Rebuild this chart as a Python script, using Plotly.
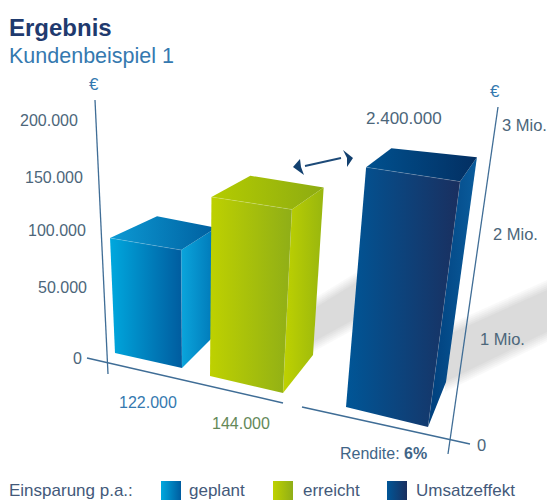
import plotly.graph_objects as go

# ---- data ----
categories = ["geplant", "erreicht", "Umsatzeffekt"]
values = [122000, 144000, 2400000]
value_labels = ["122.000", "144.000", "2.400.000"]
left_ticks = ["0", "50.000", "100.000", "150.000", "200.000"]
right_ticks = ["0", "1 Mio.", "2 Mio.", "3 Mio."]

# ---- perspective geometry (chart drawn in a 547x502 pixel-space axis) ----
VP = (195.0, 2207.0)                 # vanishing point of the verticals
CORNER_K = [1.0, 1.035, 0.925, 0.87]  # FL, FR, BR, BL scale of height
FOOT = [
    [(115, 353), (182, 368), (215, 335), (159, 318)],
    [(210, 376), (283, 393), (313, 355), (246, 335)],
    [(346, 407), (428, 427), (446, 382), (371, 362)],
]
HEIGHT_SCALE = [5.08e-7, 6.79e-7, 5.55e-8]

FRONT = [["#00a8de", "#005c9f"], ["#bed100", "#8fae17"], ["#005697", "#1a2f5f"]]
SIDE = [["#0aa5dc", "#0076b6"], ["#bfd200", "#98b60f"], ["#003f7c", "#0a5c9c"]]
TOP = [["#0c9ad4", "#005f9f"], ["#b4cc00", "#8dab12"], ["#00518f", "#032f62"]]
LABEL_COL = "#4c667a"
BLUE_TXT = "#3579af"
AXIS_COL = "#3f6d96"
FONT = "Liberation Sans"


def lift(pt, k):
    return (VP[0] + (pt[0] - VP[0]) * (1 + k), VP[1] + (pt[1] - VP[1]) * (1 + k))


def poly(fig, pts, cols=None, fill=None, kind="horizontal"):
    xs = [p[0] for p in pts] + [pts[0][0]]
    ys = [p[1] for p in pts] + [pts[0][1]]
    tr = dict(x=xs, y=ys, mode="lines", line=dict(width=0), fill="toself",
              hoverinfo="skip", showlegend=False)
    if cols:
        tr["fillgradient"] = dict(type=kind, colorscale=[[0, cols[0]], [1, cols[1]]])
    else:
        tr["fillcolor"] = fill
    fig.add_trace(go.Scatter(**tr))


def line(fig, pts, col, w):
    fig.add_trace(go.Scatter(x=[p[0] for p in pts], y=[p[1] for p in pts], mode="lines",
                             line=dict(color=col, width=w), hoverinfo="skip", showlegend=False))


def text(fig, x, y, s, size=16, col=LABEL_COL, anchor="center"):
    fig.add_annotation(x=x, y=y, text=s, showarrow=False, xanchor=anchor, yanchor="middle",
                       font=dict(family=FONT, size=size, color=col), xref="x", yref="y")


fig = go.Figure()

# soft floor shadows
for grow in [0, 2, 4, 6, 8, 10]:
    a = "rgba(0,0,0,0.025)"
    poly(fig, [(313, 299 + grow), (357, 272 + grow), (357, 328 - grow), (313, 352 - grow)], fill=a)
    poly(fig, [(445, 326 + grow), (547, 280 + grow), (547, 342 - grow), (445, 392 - grow)], fill=a)

# axes
line(fig, [(87, 358), (283, 403)], AXIS_COL, 1.4)
line(fig, [(302, 407), (470, 444)], AXIS_COL, 1.4)
line(fig, [(95, 100), (108, 374)], AXIS_COL, 1.3)
line(fig, [(498, 107), (448, 454)], AXIS_COL, 1.3)

# bars
for i, v in enumerate(values):
    foot = FOOT[i]
    k = v * HEIGHT_SCALE[i]
    top = [lift(p, k * c) for p, c in zip(foot, CORNER_K)]
    fl, fr, br, bl = foot
    tfl, tfr, tbr, tbl = top
    poly(fig, [fr, br, tbr, tfr], SIDE[i])
    poly(fig, [tfl, tfr, tbr, tbl], TOP[i])
    poly(fig, [fl, fr, tfr, tfl], FRONT[i])
    line(fig, [tfl, tfr], "rgba(255,255,255,0.16)", 1)
    line(fig, [tfr, fr], "rgba(255,255,255,0.08)", 1)

# double arrow
line(fig, [(305, 166), (341, 158)], "#1d4a78", 2)
poly(fig, [(300, 159), (293, 167), (304, 175), (301, 167)], fill="#12406f")
poly(fig, [(343, 150), (353, 158), (347, 167), (347, 158)], fill="#12406f")

# titles
text(fig, 7, 27, "<b>Ergebnis</b>", 24, "#1f3a6e", "left")
text(fig, 7, 56, "Kundenbeispiel 1", 21.5, BLUE_TXT, "left")

# euro signs
text(fig, 94, 84, "€", 17, BLUE_TXT)
text(fig, 495, 91, "€", 17, BLUE_TXT)

# left ticks
for s, x, y in zip(left_ticks, [77, 62, 57, 54, 49], [358, 287, 230, 177, 120]):
    text(fig, x, y, s)
# right ticks
for s, x, y in zip(right_ticks, [481, 502, 515, 524], [445, 339, 234, 125]):
    text(fig, x, y, s, 16.5)

# value labels
text(fig, 148, 402, value_labels[0], 16, BLUE_TXT)
text(fig, 241, 423, value_labels[1], 16, "#648858")
text(fig, 404, 118, value_labels[2], 17, LABEL_COL)
text(fig, 383, 453, "Rendite: <b>6%</b>", 16, "#3f6587")

# legend
text(fig, 7, 490, "Einsparung p.a.:", 17, "#43597a", "left")
for name, x0, tx, cols in zip(categories, [161, 273, 387], [187, 301, 414], FRONT):
    poly(fig, [(x0, 481), (x0 + 20, 481), (x0 + 20, 500), (x0, 500)], cols)
    text(fig, tx, 490, name, 17, "#43597a", "left")

fig.update_layout(
    width=547, height=502, margin=dict(l=0, r=0, t=0, b=0),
    paper_bgcolor="white", plot_bgcolor="white", showlegend=False,
    xaxis=dict(range=[0, 547], visible=False, fixedrange=True),
    yaxis=dict(range=[502, 0], visible=False, fixedrange=True),
)
fig.write_html("out.html", config={"displayModeBar": False},
               post_script="document.body.style.margin='0';document.body.style.overflow='hidden';")
